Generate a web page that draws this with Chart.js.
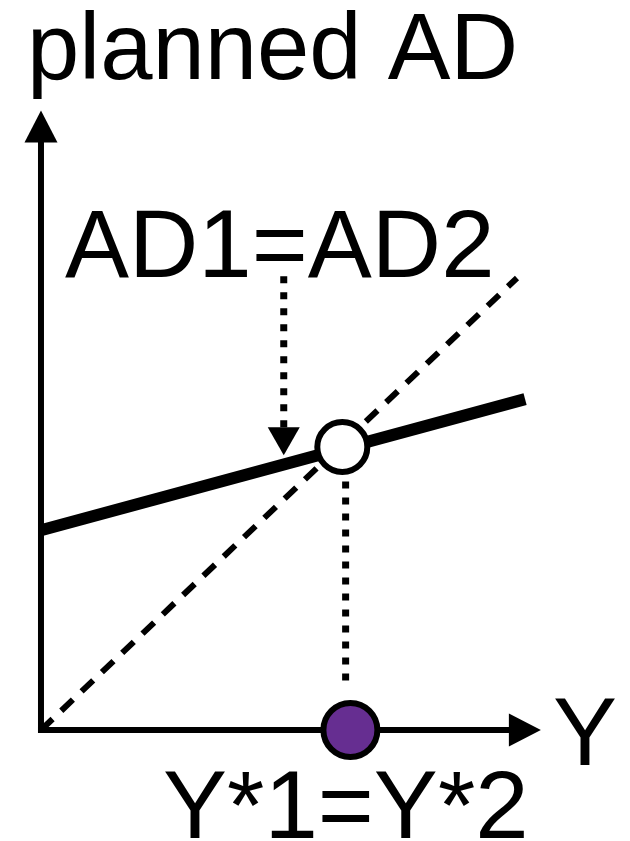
<!DOCTYPE html>
<html>
<head>
<meta charset="utf-8">
<script src="https://cdn.jsdelivr.net/npm/chart.js@4"></script>
<style>
  html, body { margin: 0; padding: 0; background: #fff; }
  canvas { display: block; }
</style>
</head>
<body>
<canvas id="ad-chart" width="630" height="841"></canvas>
<script>
// Keynesian cross values (Y on x axis, planned AD on y axis)
const yAxisX = [0, 0];
const yAxisY = [0, 13.0];
const xAxisX = [0, 9.83];
const xAxisY = [0, 0];

// 45 degree line: AD = Y
const diagX = [0, 10];
const diagY = [0, 10];

// planned AD line (AD1 = AD2)
const adX = [0, 10.17];
const adY = [4.42, 7.32];

// equilibrium point and Y* on the axis
const eqX = [6.33];
const eqY = [6.26];
const yStarX = [6.5];
const yStarY = [0];

// dotted drop line from equilibrium to Y*
const dropX = [6.4, 6.4];
const dropY = [5.5, 1.05];

// dotted callout arrow from the label
const calloutX = [5.1, 5.1];
const calloutY = [10.04, 6.7];

// labels
const labelTitle = "planned AD";
const labelAD = "AD1=AD2";
const labelY = "Y";
const labelYStar = "Y*1=Y*2";

function pts(xs, ys) {
  return xs.map((x, i) => ({ x: x, y: ys[i] }));
}

// draws a filled triangle past the last point of datasets that have "arrow"
const arrowHeads = {
  id: "arrowHeads",
  afterDatasetsDraw(chart) {
    const ctx = chart.ctx;
    chart.data.datasets.forEach((ds, i) => {
      if (!ds.arrow) return;
      const els = chart.getDatasetMeta(i).data;
      const a = els[els.length - 2];
      const b = els[els.length - 1];
      const dx = b.x - a.x, dy = b.y - a.y;
      const len = Math.sqrt(dx * dx + dy * dy);
      const ux = dx / len, uy = dy / len;
      const L = ds.arrow.length, W = ds.arrow.width;
      ctx.save();
      ctx.fillStyle = "#000";
      ctx.beginPath();
      ctx.moveTo(b.x + ux * L, b.y + uy * L);
      ctx.lineTo(b.x - uy * W, b.y + ux * W);
      ctx.lineTo(b.x + uy * W, b.y - ux * W);
      ctx.closePath();
      ctx.fill();
      ctx.restore();
    });
  },
};

// text labels
const textLabels = {
  id: "textLabels",
  afterDraw(chart) {
    const ctx = chart.ctx;
    ctx.save();
    ctx.fillStyle = "#000";
    ctx.textAlign = "left";
    ctx.textBaseline = "alphabetic";
    ctx.font = '94px "Liberation Sans", Arial, sans-serif';
    ctx.fillText(labelTitle, 27, 79);
    ctx.font = '96px "Liberation Sans", Arial, sans-serif';
    ctx.fillText(labelAD, 65, 277);
    ctx.fillText(labelY, 553, 765);
    ctx.fillText(labelYStar, 163, 838);
    ctx.restore();
  },
};

const ctx = document.getElementById("ad-chart").getContext("2d");

new Chart(ctx, {
  type: "scatter",
  data: {
    datasets: [
      {
        // open circle at equilibrium
        data: pts(eqX, eqY),
        showLine: false,
        pointRadius: 25,
        pointBorderWidth: 6,
        pointBackgroundColor: "#fff",
        pointBorderColor: "#000",
      },
      {
        // Y* on the horizontal axis
        data: pts(yStarX, yStarY),
        showLine: false,
        pointRadius: 27,
        pointBorderWidth: 6,
        pointBackgroundColor: "#662e91",
        pointBorderColor: "#000",
      },
      {
        data: pts(adX, adY),
        showLine: true,
        borderColor: "#000",
        borderWidth: 12,
        pointRadius: 0,
      },
      {
        data: pts(calloutX, calloutY),
        showLine: true,
        borderColor: "#000",
        borderWidth: 7,
        borderDash: [7, 9],
        pointRadius: 0,
        arrow: { length: 28, width: 16 },
      },
      {
        data: pts(dropX, dropY),
        showLine: true,
        borderColor: "#000",
        borderWidth: 7,
        borderDash: [7, 9],
        pointRadius: 0,
      },
      {
        data: pts(diagX, diagY),
        showLine: true,
        borderColor: "#000",
        borderWidth: 6,
        borderDash: [16, 12],
        pointRadius: 0,
      },
      {
        data: pts(yAxisX, yAxisY),
        showLine: true,
        borderColor: "#000",
        borderWidth: 6,
        borderCapStyle: "square",
        pointRadius: 0,
        arrow: { length: 32, width: 16.5 },
      },
      {
        data: pts(xAxisX, xAxisY),
        showLine: true,
        borderColor: "#000",
        borderWidth: 6,
        borderCapStyle: "square",
        pointRadius: 0,
        arrow: { length: 32, width: 16.5 },
      },
    ],
  },
  options: {
    responsive: false,
    devicePixelRatio: 1,
    animation: false,
    layout: { padding: 0, autoPadding: false },
    plugins: {
      legend: { display: false },
      tooltip: { enabled: false },
      title: { display: false },
    },
    scales: {
      x: { type: "linear", min: -0.861, max: 12.374, display: false },
      y: { type: "linear", min: -2.456, max: 16.15, display: false },
    },
  },
  plugins: [arrowHeads, textLabels],
});
</script>
</body>
</html>
